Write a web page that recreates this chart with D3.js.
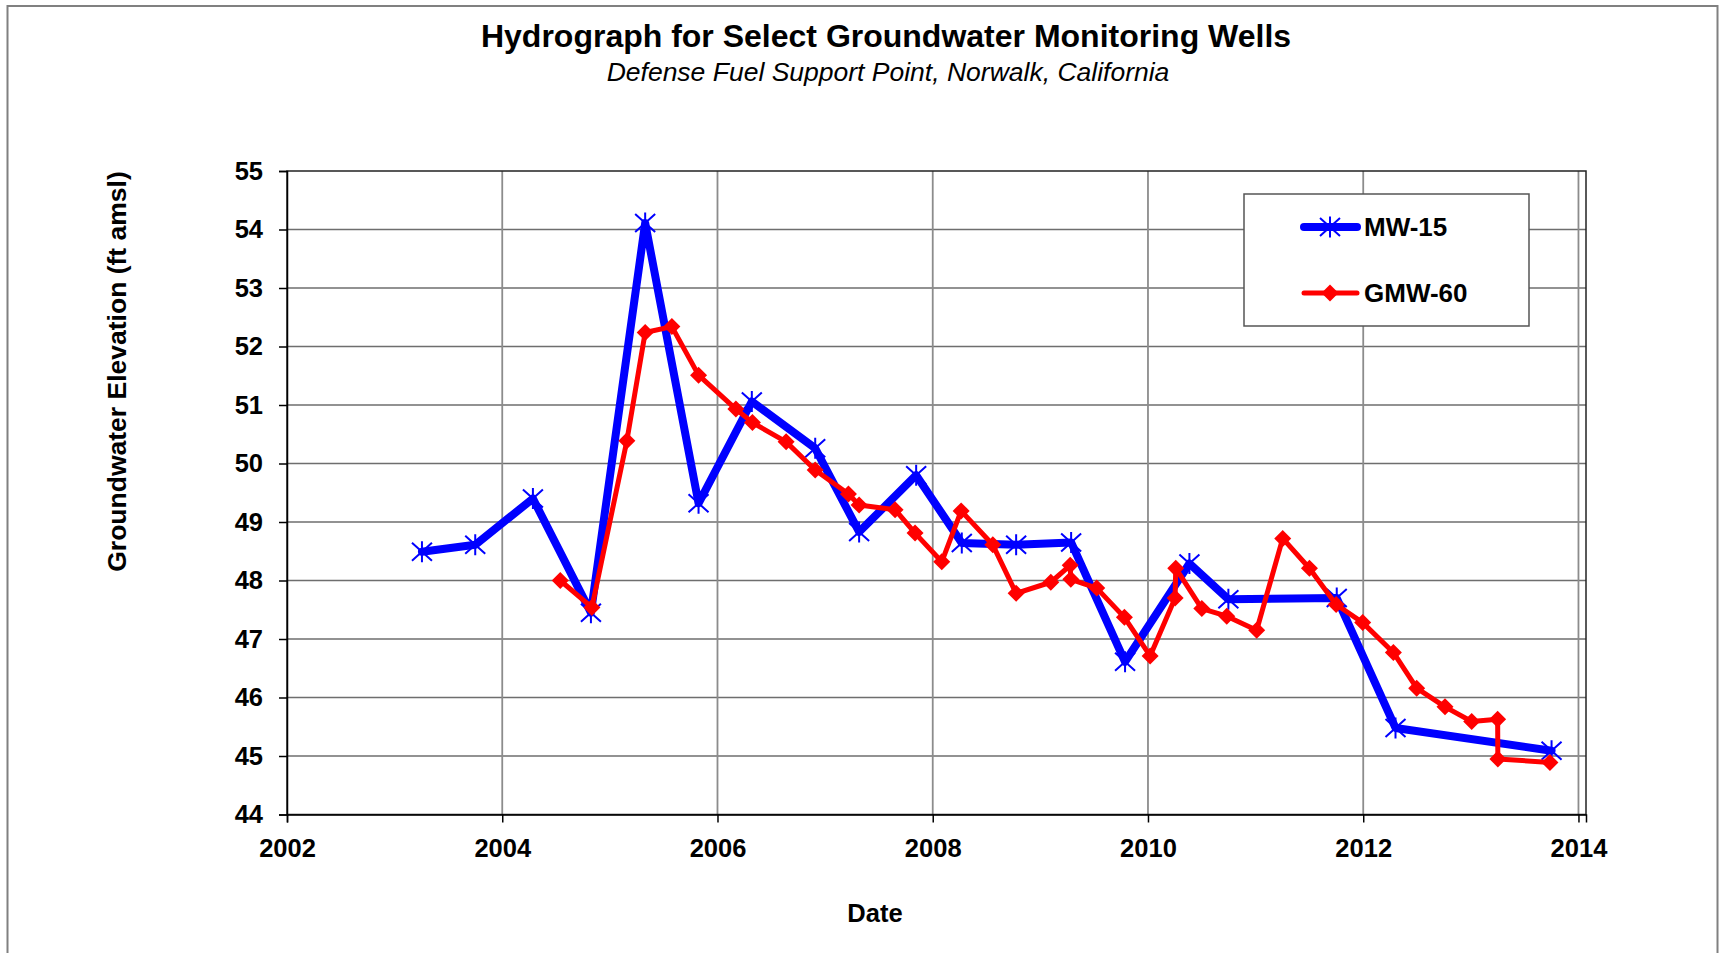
<!DOCTYPE html>
<html>
<head>
<meta charset="utf-8">
<script src="https://cdn.jsdelivr.net/npm/d3@7"></script>
<style>
  html, body { margin: 0; padding: 0; background: #fff; }
  svg { display: block; font-family: "Liberation Sans", Arial, sans-serif; }
</style>
</head>
<body>
<svg id="chart" width="1735" height="953"></svg>
<script>
// Hydrograph, values (decimal years).

const mw15Dates = [2003.254, 2003.749, 2004.285, 2004.824, 2005.328, 2005.824,
  2006.319, 2006.908, 2007.316, 2007.846, 2008.27, 2008.775, 2009.286,
  2009.787, 2010.385, 2010.747, 2011.754, 2012.30, 2013.75];
const mw15Values = [48.49, 48.61, 49.40, 47.45, 54.11, 49.32,
  51.06, 50.26, 48.83, 49.80, 48.64, 48.61, 48.65,
  46.61, 48.29, 47.68, 47.70, 45.48, 45.09];

const gmw60Dates = [2004.539, 2004.833, 2005.158, 2005.328, 2005.576, 2005.824,
  2006.171, 2006.325, 2006.638, 2006.908, 2007.217, 2007.316, 2007.65,
  2007.836, 2008.084, 2008.264, 2008.558, 2008.775, 2009.097, 2009.277,
  2009.283, 2009.524, 2009.781, 2010.02, 2010.252, 2010.258, 2010.50,
  2010.732, 2011.01, 2011.252, 2011.50, 2011.748, 2011.995, 2012.28,
  2012.497, 2012.76, 2013.008, 2013.249, 2013.251, 2013.735];
const gmw60Values = [48.00, 47.54, 50.39, 52.24, 52.34, 51.51,
  50.93, 50.70, 50.37, 49.89, 49.48, 49.29, 49.21,
  48.81, 48.32, 49.19, 48.61, 47.78, 47.97, 48.26,
  48.02, 47.87, 47.37, 46.71, 47.70, 48.21, 47.52,
  47.39, 47.15, 48.72, 48.21, 47.59, 47.28, 46.77,
  46.16, 45.84, 45.59, 45.63, 44.95, 44.89];

const xTicks = [2002, 2004, 2006, 2008, 2010, 2012, 2014];
const yTicks = [44, 45, 46, 47, 48, 49, 50, 51, 52, 53, 54, 55];

const series = [
  {name: 'MW-15', color: '#0000ff', width: 8, marker: 'star',
    points: mw15Dates.map((d, i) => ({date: d, value: mw15Values[i]}))},
  {name: 'GMW-60', color: '#ff0000', width: 5, marker: 'diamond',
    points: gmw60Dates.map((d, i) => ({date: d, value: gmw60Values[i]}))}
];

const plot = {left: 287, right: 1586, top: 171, bottom: 814.5};

const svg = d3.select('#chart');

const x = d3.scaleLinear()
    .domain([2002, 2014.07])
    .range([plot.left, plot.right]);

const y = d3.scaleLinear()
    .domain([44, 55])
    .range([plot.bottom, plot.top]);

// outer chart border
svg.append('rect')
    .attr('x', 7.5)
    .attr('y', 6)
    .attr('width', 1710)
    .attr('height', 960)
    .attr('fill', '#fff')
    .attr('stroke', '#808080')
    .attr('stroke-width', 2);

// titles
svg.append('text')
    .attr('x', 886)
    .attr('y', 47)
    .attr('text-anchor', 'middle')
    .attr('font-size', 32)
    .attr('font-weight', 'bold')
    .text('Hydrograph for Select Groundwater Monitoring Wells');

svg.append('text')
    .attr('x', 888)
    .attr('y', 81)
    .attr('text-anchor', 'middle')
    .attr('font-size', 26.5)
    .attr('font-style', 'italic')
    .text('Defense Fuel Support Point, Norwalk, California');

// grid
const grid = svg.append('g').attr('class', 'grid');

grid.selectAll('.hgrid')
  .data(yTicks.slice(1, -1))
  .join('line')
    .attr('class', 'hgrid')
    .attr('x1', plot.left)
    .attr('x2', plot.right)
    .attr('y1', d => y(d))
    .attr('y2', d => y(d))
    .attr('stroke', '#6e6e6e')
    .attr('stroke-width', 1.5);

grid.selectAll('.vgrid')
  .data(xTicks.slice(1))
  .join('line')
    .attr('class', 'vgrid')
    .attr('x1', d => x(d))
    .attr('x2', d => x(d))
    .attr('y1', plot.top)
    .attr('y2', plot.bottom)
    .attr('stroke', '#8c8c8c')
    .attr('stroke-width', 1.8);

svg.append('rect')
    .attr('x', plot.left)
    .attr('y', plot.top)
    .attr('width', plot.right - plot.left)
    .attr('height', plot.bottom - plot.top)
    .attr('fill', 'none')
    .attr('stroke', '#222')
    .attr('stroke-width', 1.5);

// axes
function styleAxis(g) {
  g.select('.domain').attr('stroke', '#000').attr('stroke-width', 1.5);
  g.selectAll('.tick line').attr('stroke', '#000').attr('stroke-width', 1.5);
  g.selectAll('text')
      .attr('font-family', '"Liberation Sans", Arial, sans-serif')
      .attr('font-size', 25.5)
      .attr('font-weight', 'bold')
      .attr('fill', '#000');
}

svg.append('g')
    .attr('class', 'axis')
    .attr('transform', `translate(${plot.left},0)`)
    .call(d3.axisLeft(y).tickValues(yTicks).tickSize(8).tickPadding(16).tickFormat(d3.format('d')))
    .call(styleAxis);

svg.append('g')
    .attr('class', 'axis')
    .attr('transform', `translate(0,${plot.bottom})`)
    .call(d3.axisBottom(x).tickValues(xTicks).tickSize(8).tickPadding(16).tickFormat(d3.format('d')))
    .call(styleAxis);

svg.append('text')
    .attr('transform', 'translate(126,371.5) rotate(-90)')
    .attr('text-anchor', 'middle')
    .attr('font-size', 26.5)
    .attr('font-weight', 'bold')
    .text('Groundwater Elevation (ft amsl)');

svg.append('text')
    .attr('x', 875)
    .attr('y', 922)
    .attr('text-anchor', 'middle')
    .attr('font-size', 25.5)
    .attr('font-weight', 'bold')
    .text('Date');

// markers
function drawMarker(sel, kind, color) {
  if (kind === 'star') {
    sel.append('path')
        .attr('d', 'M-10,-9L10,9M-10,9L10,-9M0,-10.5L0,10.5')
        .attr('stroke', color)
        .attr('stroke-width', 2)
        .attr('fill', 'none');
  } else {
    sel.append('path')
        .attr('d', 'M0,-8.5L8.5,0L0,8.5L-8.5,0Z')
        .attr('fill', color);
  }
}

const line = d3.line()
    .x(d => x(d.date))
    .y(d => y(d.value));

const seriesGroups = svg.selectAll('.series')
  .data(series)
  .join('g')
    .attr('class', 'series');

seriesGroups.append('path')
    .attr('d', d => line(d.points))
    .attr('fill', 'none')
    .attr('stroke', d => d.color)
    .attr('stroke-width', d => d.width)
    .attr('stroke-linejoin', 'round')
    .attr('stroke-linecap', 'round');

seriesGroups.each(function(s) {
  d3.select(this).selectAll('.marker')
    .data(s.points)
    .join('g')
      .attr('class', 'marker')
      .attr('transform', d => `translate(${x(d.date)},${y(d.value)})`)
      .each(function() { drawMarker(d3.select(this), s.marker, s.color); });
});

// legend
const legend = svg.append('g')
    .attr('transform', 'translate(1244,194)');

legend.append('rect')
    .attr('width', 285)
    .attr('height', 132)
    .attr('fill', '#fff')
    .attr('stroke', '#555')
    .attr('stroke-width', 1.5);

const legendItems = legend.selectAll('.item')
  .data(series)
  .join('g')
    .attr('class', 'item')
    .attr('transform', (d, i) => `translate(0,${33 + i * 66})`);

legendItems.append('line')
    .attr('x1', 60)
    .attr('x2', 113)
    .attr('stroke', d => d.color)
    .attr('stroke-width', d => d.width)
    .attr('stroke-linecap', 'round');

legendItems.append('g')
    .attr('transform', 'translate(86,0)')
    .each(function(d) { drawMarker(d3.select(this), d.marker, d.color); });

legendItems.append('text')
    .attr('x', 120)
    .attr('y', 9)
    .attr('font-size', 26)
    .attr('font-weight', 'bold')
    .text(d => d.name);
</script>
</body>
</html>
